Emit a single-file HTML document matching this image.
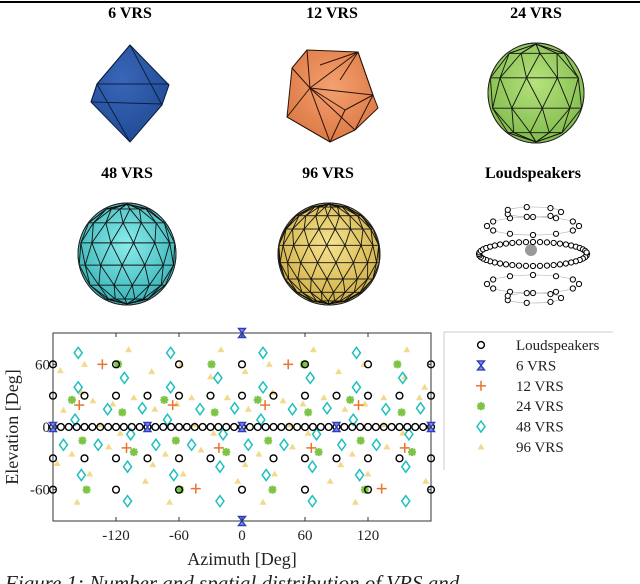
<!DOCTYPE html>
<html><head><meta charset="utf-8"><style>
body{margin:0;background:#fff;width:640px;height:584px;overflow:hidden;font-family:"Liberation Serif",serif}
svg{position:absolute;left:0;top:0}
</style></head><body>
<svg id="s" width="640" height="584" viewBox="0 0 640 584">
<defs>
<radialGradient id="gb" cx="40%" cy="35%" r="70%"><stop offset="0" stop-color="#3a66b8"/><stop offset="1" stop-color="#1f4a94"/></radialGradient>
<radialGradient id="go" cx="50%" cy="40%" r="70%"><stop offset="0" stop-color="#f4a070"/><stop offset="1" stop-color="#d8733e"/></radialGradient>
<radialGradient id="gg" cx="50%" cy="40%" r="70%"><stop offset="0" stop-color="#b5e27c"/><stop offset="1" stop-color="#79b445"/></radialGradient>
<radialGradient id="gc" cx="50%" cy="40%" r="70%"><stop offset="0" stop-color="#8aecec"/><stop offset="1" stop-color="#2aa9ad"/></radialGradient>
<radialGradient id="gy" cx="50%" cy="40%" r="70%"><stop offset="0" stop-color="#f6e38e"/><stop offset="1" stop-color="#c9a539"/></radialGradient>
</defs>
<line x1="0" y1="2" x2="640" y2="2" stroke="#000" stroke-width="2"/>
<g font-weight="bold" font-size="16" text-anchor="middle">
<text x="130" y="18">6 VRS</text>
<text x="332" y="18">12 VRS</text>
<text x="536" y="18">24 VRS</text>
<text x="127" y="178">48 VRS</text>
<text x="328" y="178">96 VRS</text>
<text x="533" y="178">Loudspeakers</text>
</g>
<g stroke="#0d1f3f" stroke-width="1" stroke-linejoin="round">
<polygon points="130,45 169,85 162,105 130,142 91,102 97,84" fill="url(#gb)"/>
<polyline points="97,84 169,84" fill="none"/><polyline points="91,102 162,104" fill="none"/>
<polyline points="130,45 97,84 91,102" fill="none"/><polyline points="130,45 162,105" fill="none"/>
<polyline points="97,84 130,142" fill="none"/>
</g>
<g stroke="#2a1408" stroke-width="1" fill="none" stroke-linejoin="round">
<polygon points="292,68 307,50 358,52 373,95 378,108 355,130 330,142 287,117" fill="url(#go)"/>
<polyline points="307,50 310,88 358,52 373,95 310,88 292,68"/>
<polyline points="310,88 287,117 330,142 310,88 355,130 373,95"/>
<polyline points="330,142 345,110 373,95"/><polyline points="345,110 310,88"/>
<polyline points="320,65 358,52 340,80"/>
</g>
<g id="spheres"></g>
<g id="ls"></g>
<g id="chart"></g>
<text x="5" y="590" font-size="21" font-style="italic" fill="#222">Figure 1: Number and spatial distribution of VRS and</text>
</svg>
<script>
const NS='http://www.w3.org/2000/svg';
function mk(tag,attrs,parent){const e=document.createElementNS(NS,tag);for(const k in attrs)e.setAttribute(k,attrs[k]);parent.appendChild(e);return e;}
function sphere(cx,cy,rx,ry,nLat,nLon,fill,name){
 const g=mk('g',{stroke:'#111','stroke-width':0.9,fill:'none'},document.getElementById('spheres'));
 
 
 mk('ellipse',{cx:cx,cy:cy,rx:rx,ry:ry,fill:fill},g);
 const P=[];
 for(let i=0;i<=nLat;i++){const lat=-90+180*i/nLat;const row=[];
  for(let j=0;j<nLon;j++){const lon=(j+(i%2)*0.5)*360/nLon+8;const la=lat*Math.PI/180,lo=lon*Math.PI/180;
   row.push({x:cx+rx*Math.cos(la)*Math.sin(lo),y:cy-ry*Math.sin(la)*0.98,v:Math.cos(la)*Math.cos(lo)>-0.15||Math.abs(lat)>80});}
  P.push(row);}
 function ln(a,b){if(a.v&&b.v)mk('line',{x1:a.x,y1:a.y,x2:b.x,y2:b.y},g);}
 for(let i=0;i<=nLat;i++)for(let j=0;j<nLon;j++){const a=P[i][j];
  if(i>0&&i<nLat)ln(a,P[i][(j+1)%nLon]);
  if(i<nLat){ln(a,P[i+1][j]);const k=(i%2)?(j+1)%nLon:(j-1+nLon)%nLon;ln(a,P[i+1][k]);}}
 mk('ellipse',{cx:cx,cy:cy,rx:rx,ry:ry,stroke:'#222'},g);
}
sphere(536,93,48,50,5,9,'url(#gg)','sphere-24-vrs');
sphere(127,254,49,51,7,13,'url(#gc)','sphere-48-vrs');
sphere(329,254,51,51,9,17,'url(#gy)','sphere-96-vrs');
(function(){const g=document.getElementById('ls');
 const rings=[[254,54,12,48],[226,46,9,12],[284,46,9,12],[212,28,5,7],[298,28,5,7]];
 mk('ellipse',{cx:531,cy:250,rx:6,ry:6,fill:'#999'},g);
 rings.forEach(r=>{mk('ellipse',{cx:533,cy:r[0],rx:r[1],ry:r[2],fill:'none',stroke:'#aaa','stroke-width':0.6},g);
  for(let k=0;k<r[3];k++){const a=2*Math.PI*k/r[3];const c=mk('circle',{cx:533+r[1]*Math.cos(a),cy:r[0]+r[2]*Math.sin(a),r:2.6,fill:'#fff',stroke:'#000','stroke-width':1},g);
   
   }});
})();
const lsAz=[-180,-172.5,-165,-157.5,-150,-142.5,-135,-127.5,-120,-112.5,-105,-97.5,-90,-82.5,-75,-67.5,-60,-52.5,-45,-37.5,-30,-22.5,-15,-7.5,0,7.5,15,22.5,30,37.5,45,52.5,60,67.5,75,82.5,90,97.5,105,112.5,120,127.5,135,142.5,150,157.5,165,172.5,180,
 -180,-150,-120,-90,-60,-30,0,30,60,90,120,150,180,-180,-150,-120,-90,-60,-30,0,30,60,90,120,150,180,
 -180,-120,-60,0,60,120,180,-180,-120,-60,0,60,120,180];
const lsEl=[0,0,0,0,0,0,0,0,0,0,0,0,0,0,0,0,0,0,0,0,0,0,0,0,0,0,0,0,0,0,0,0,0,0,0,0,0,0,0,0,0,0,0,0,0,0,0,0,0,
 30,30,30,30,30,30,30,30,30,30,30,30,30,-30,-30,-30,-30,-30,-30,-30,-30,-30,-30,-30,-30,-30,
 60,60,60,60,60,60,60,-60,-60,-60,-60,-60,-60,-60];
const v6Az=[0,0,0,90,-90,180,-180];
const v6El=[90,-90,0,0,0,0,0];
const v12Az=[-133,44,-155,-66,22,111,-110,-22,66,155,-44,133];
const v12El=[60,60,21,21,21,21,-20,-20,-20,-20,-59,-59];
const v24Az=[-118,-29,59,148,-162,-74,15,103,-114,-26,63,152,-152,-63,25,113,-103,-15,73,162,-148,-59,29,117];
const v24El=[60,60,60,60,26,26,26,26,14,14,14,14,-13,-13,-13,-13,-24,-24,-24,-24,-60,-60,-60,-60];
const v48Az=[-156,-68,20,109,-112,-23,65,153,-156,-68,20,109,-128,-40,48,137,-95,-7,81,170,-159,-71,18,106,-106,-18,71,159,-170,-137,-82,-48,6,40,95,128,-109,-21,67,156,-153,-65,23,112,-109,-21,67,156];
const v48El=[71,71,71,71,47,47,47,47,38,38,38,38,17,17,17,17,18,18,18,18,7,7,7,7,-7,-7,-7,-7,-17,-17,-17,-17,-17,-17,-17,-17,-38,-38,-38,-38,-46,-46,-46,-46,-71,-71,-71,-71];
const v96Az=[-173,-150,-108,-86,-58,-20,3,26,68,92,116,157,174,-170,-153,-142,-123,-103,-83,-62,-48,-30,-14,6,29,39,58,78,98,117,135,155,169,-176,-162,-145,-127,-116,-85,-73,-56,-39,-27,3,16,31,48,63,94,105,120,138,153,175,-157,-92,-69,-4,20,84,108,-135,-45,45,135];
const v96El=[54,60,74,53,60,74,53,60,74,53,60,74,38,16,33,25,22,28,17,22,28,48,28,17,33,25,22,28,17,22,28,48,28,-35,-26,-45,-19,-6,-36,-26,-45,-22,-6,-36,-26,-45,-19,-6,-36,-26,-45,-19,-6,-52,-72,-52,-72,-52,-72,-52,-72,2,2,2,2];
const xTicks=[-120,-60,0,60,120];
const yTicks=[-60,0,60];
const X0=53,X1=431,Y0=333,Y1=521;
const xs=az=>X0+(az+180)/360*(X1-X0);
const ys=el=>Y1-(el+90)/180*(Y1-Y0);
const C=document.getElementById('chart');
const frame=mk('rect',{x:X0,y:Y0,width:X1-X0,height:Y1-Y0,fill:'#fff',stroke:'#333','stroke-width':1},C);


const M=mk('g',{},C);
xTicks.forEach(t=>{const x=xs(t);
 mk('line',{x1:x,y1:Y1,x2:x,y2:Y1-4,stroke:'#333'},C);mk('line',{x1:x,y1:Y0,x2:x,y2:Y0+4,stroke:'#333'},C);
 const tx=mk('text',{x:x,y:Y1+19,'font-size':15,'text-anchor':'middle',fill:'#222'},C);tx.textContent=t;
 
 });
yTicks.forEach(t=>{const y=ys(t);
 mk('line',{x1:X0,y1:y,x2:X0+4,y2:y,stroke:'#333'},C);mk('line',{x1:X1,y1:y,x2:X1-4,y2:y,stroke:'#333'},C);
 const tx=mk('text',{x:X0-3,y:y+5,'font-size':15,'text-anchor':'end',fill:'#222'},C);tx.textContent=t;
 
 });
const xt=mk('text',{x:242,y:565,'font-size':18,'text-anchor':'middle',fill:'#222'},C);xt.textContent='Azimuth [Deg]';


const yt=mk('text',{x:0,y:0,'font-size':18,'text-anchor':'middle',fill:'#222',transform:'translate(18,427) rotate(-90)'},C);yt.textContent='Elevation [Deg]';


function marker(type,x,y,p){
 if(type==='tri')return mk('polygon',{points:`${x},${y-3.5} ${x+3.5},${y+2.5} ${x-3.5},${y+2.5}`,fill:'#f3d98e'},p);
 if(type==='dia')return mk('polygon',{points:`${x},${y-5.5} ${x+4},${y} ${x},${y+5.5} ${x-4},${y}`,fill:'none',stroke:'#1fbfbf','stroke-width':1.5},p);
 if(type==='ast'){const g=mk('g',{stroke:'#7cc444','stroke-width':2.2},p);mk('line',{x1:x-4,y1:y,x2:x+4,y2:y},g);mk('line',{x1:x,y1:y-4,x2:x,y2:y+4},g);mk('line',{x1:x-3,y1:y-3,x2:x+3,y2:y+3},g);mk('line',{x1:x-3,y1:y+3,x2:x+3,y2:y-3},g);return g;}
 if(type==='plus'){const g=mk('g',{stroke:'#e8742e','stroke-width':1.5},p);mk('line',{x1:x-5,y1:y,x2:x+5,y2:y},g);mk('line',{x1:x,y1:y-5,x2:x,y2:y+5},g);return g;}
 if(type==='hour')return mk('polygon',{points:`${x-3.5},${y-4.5} ${x+3.5},${y-4.5} ${x-3.5},${y+4.5} ${x+3.5},${y+4.5}`,fill:'#8f8fe8',stroke:'#2b3ec0','stroke-width':1.4},p);
 return mk('circle',{cx:x,cy:y,r:3.4,fill:'none',stroke:'#000','stroke-width':1.4},p);
}
function series(az,el,type,name){const g=mk('g',{},M);
 
 
 az.forEach((a,i)=>{const m=marker(type,xs(a),ys(el[i]),g);
  
  });}
series(v96Az,v96El,'tri','series-96-vrs');
series(v48Az,v48El,'dia','series-48-vrs');
series(v24Az,v24El,'ast','series-24-vrs');
series(v12Az,v12El,'plus','series-12-vrs');
series(lsAz,lsEl,'circ','series-loudspeakers');
series(v6Az,v6El,'hour','series-6-vrs');
const L=mk('g',{},C);


mk('polyline',{points:'444,470 444,332 613,332',fill:'none',stroke:'#ccc','stroke-width':1},L);
const legNames=['Loudspeakers','6 VRS','12 VRS','24 VRS','48 VRS','96 VRS'];
const legTypes=['circ','hour','plus','ast','dia','tri'];
legNames.forEach((n,i)=>{const y=345+i*20.4;
 const m=marker(legTypes[i],481,y,L);
 
 
 const t=mk('text',{x:516,y:y+5,'font-size':15,fill:'#222'},L);t.textContent=n;
 
 });
</script>
</body></html>
